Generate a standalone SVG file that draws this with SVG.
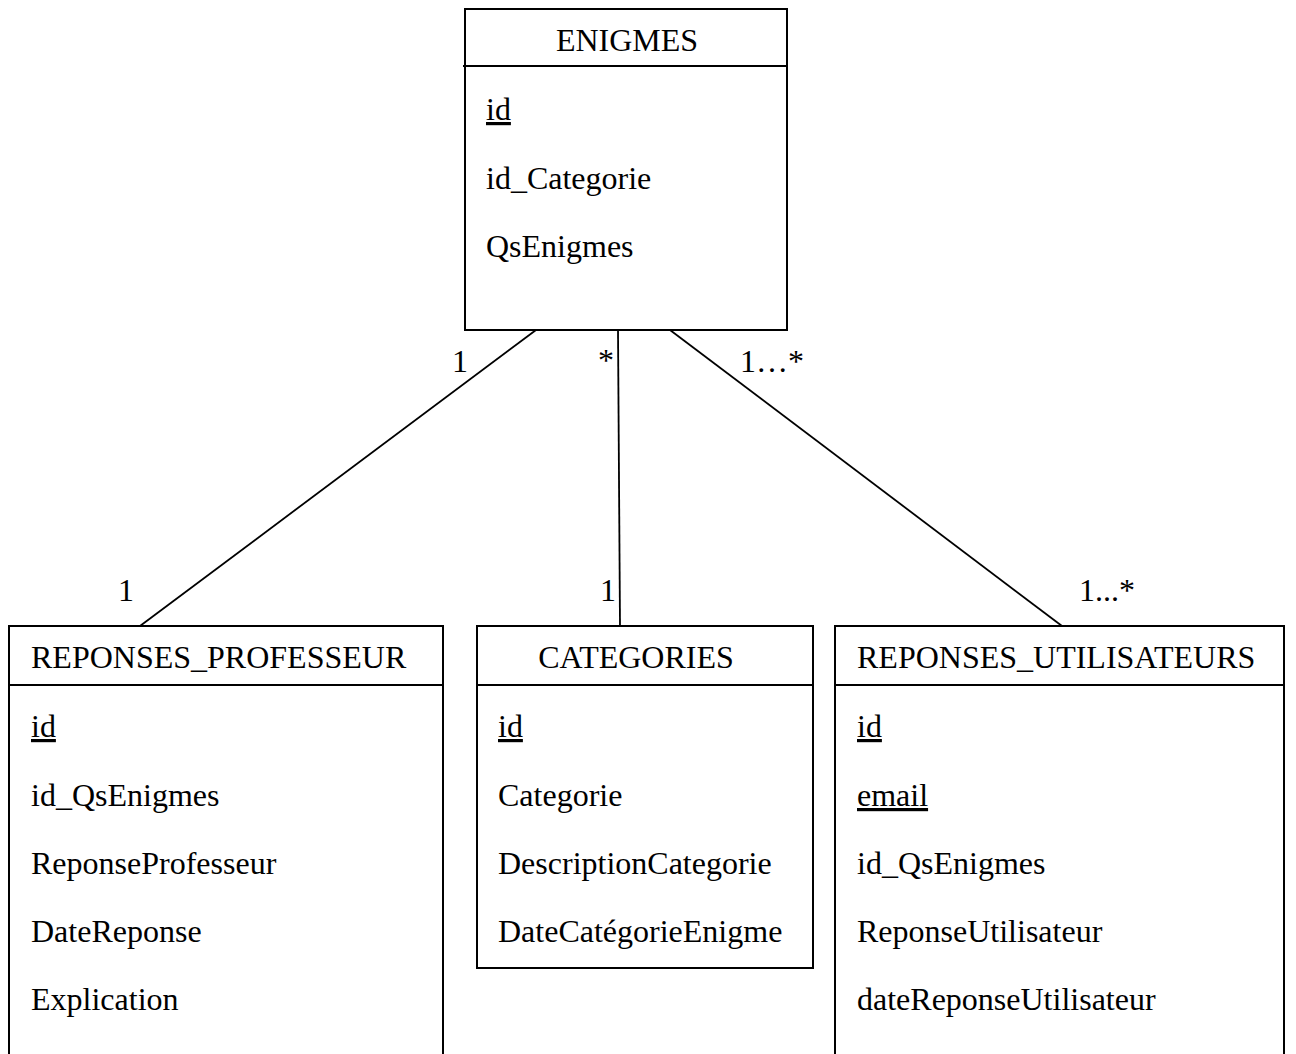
<svg xmlns="http://www.w3.org/2000/svg" width="1296" height="1054" viewBox="0 0 1296 1054">
<style>
.box{fill:#fff;stroke:#000;stroke-width:2}
.div{stroke:#000;stroke-width:2}
.t{font-family:"Liberation Serif","Times New Roman",serif;font-size:32px;fill:#000}
.c{text-anchor:middle}
.u{text-decoration:underline}
.conn{stroke:#000;stroke-width:1.8;fill:none}
</style>
<rect width="1296" height="1054" fill="#fff"/>
<g id="connectors">
<line class="conn" x1="536" y1="330" x2="140" y2="626"/>
<line class="conn" x1="618" y1="330" x2="620" y2="626"/>
<line class="conn" x1="670" y1="330" x2="1062" y2="626"/>
<text class="t" x="452" y="372">1</text>
<text class="t" x="598" y="371">*</text>
<text class="t" x="740" y="372">1…*</text>
<text class="t" x="118" y="601">1</text>
<text class="t" x="600" y="601">1</text>
<text class="t" x="1079" y="601">1...*</text>
</g>
<g id="enigmes">
<rect class="box" x="465" y="9" width="322" height="321"/>
<line class="div" x1="463" y1="66" x2="787" y2="66"/>
<text class="t c" x="627" y="51">ENIGMES</text>
<text class="t u" x="486" y="120">id</text>
<text class="t" x="486" y="189">id_Categorie</text>
<text class="t" x="486" y="257">QsEnigmes</text>
</g>
<g id="reponses_professeur">
<rect class="box" x="9" y="626" width="434" height="440"/>
<line class="div" x1="9" y1="685" x2="443" y2="685"/>
<text class="t" x="31" y="668">REPONSES_PROFESSEUR</text>
<text class="t u" x="31" y="737">id</text>
<text class="t" x="31" y="806">id_QsEnigmes</text>
<text class="t" x="31" y="874">ReponseProfesseur</text>
<text class="t" x="31" y="942">DateReponse</text>
<text class="t" x="31" y="1010">Explication</text>
</g>
<g id="categories">
<rect class="box" x="477" y="626" width="336" height="342"/>
<line class="div" x1="477" y1="685" x2="813" y2="685"/>
<text class="t c" x="636" y="668">CATEGORIES</text>
<text class="t u" x="498" y="737">id</text>
<text class="t" x="498" y="806">Categorie</text>
<text class="t" x="498" y="874">DescriptionCategorie</text>
<text class="t" x="498" y="942">DateCatégorieEnigme</text>
</g>
<g id="reponses_utilisateurs">
<rect class="box" x="835" y="626" width="449" height="440"/>
<line class="div" x1="835" y1="685" x2="1284" y2="685"/>
<text class="t" x="857" y="668">REPONSES_UTILISATEURS</text>
<text class="t u" x="857" y="737">id</text>
<text class="t u" x="857" y="806">email</text>
<text class="t" x="857" y="874">id_QsEnigmes</text>
<text class="t" x="857" y="942">ReponseUtilisateur</text>
<text class="t" x="857" y="1010">dateReponseUtilisateur</text>
</g>
</svg>
